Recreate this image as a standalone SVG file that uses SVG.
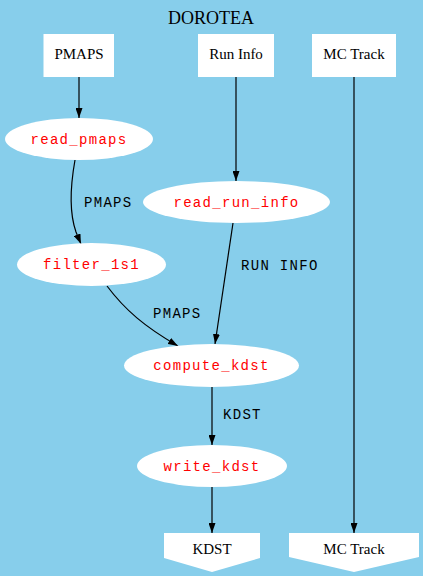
<svg xmlns="http://www.w3.org/2000/svg" width="423" height="576" viewBox="0 0 423 576">
<defs>
<style>
.bg{fill:#87ceeb}
.box{fill:#ffffff;stroke:none}
.ell{fill:#ffffff;stroke:none}
.lbl{font-family:"Liberation Serif","Times New Roman",serif;font-size:15px;fill:#000;text-anchor:middle}
.fn{font-family:"Liberation Mono","Courier New",monospace;font-size:14px;letter-spacing:1.3px;fill:#ff0000;text-anchor:middle}
.elbl{font-family:"Liberation Mono","Courier New",monospace;font-size:14px;letter-spacing:1.3px;fill:#000;text-anchor:start}
.edge{fill:none;stroke:#000;stroke-width:1.2}
.title{font-family:"Liberation Serif","Times New Roman",serif;font-size:18px;fill:#000;text-anchor:middle}
</style>
<marker id="arr" viewBox="0 0 10 7" refX="10" refY="3.5" markerWidth="10" markerHeight="7" markerUnits="userSpaceOnUse" orient="auto">
<path d="M0,0 L10,3.5 L0,7 Z" fill="#000"/>
</marker>
</defs>
<rect class="bg" x="0" y="0" width="423" height="576"/>
<text class="title" x="211" y="24">DOROTEA</text>

<g id="connectors">
<path class="edge" d="M79,77 L79,118" marker-end="url(#arr)"/>
<path class="edge" d="M75,160 C70,188 70,215 76,232 L81,244" marker-end="url(#arr)"/>
<text class="elbl" x="84" y="207">PMAPS</text>
<path class="edge" d="M236,77 L236,181" marker-end="url(#arr)"/>
<path class="edge" d="M233,223 L215,344" marker-end="url(#arr)"/>
<text class="elbl" x="241" y="270">RUN INFO</text>
<path class="edge" d="M107,286 C125,310 145,327 178,346" marker-end="url(#arr)"/>
<text class="elbl" x="153" y="318">PMAPS</text>
<path class="edge" d="M212,387 L212,445" marker-end="url(#arr)"/>
<text class="elbl" x="223" y="419">KDST</text>
<path class="edge" d="M212,487 L212,533" marker-end="url(#arr)"/>
<path class="edge" d="M354,77 L354,533" marker-end="url(#arr)"/>
</g>

<g id="in_pmaps">
<rect class="box" x="43.5" y="34" width="70.5" height="43"/>
<text class="lbl" x="79" y="59">PMAPS</text>
</g>
<g id="in_runinfo">
<rect class="box" x="198" y="34" width="76" height="43"/>
<text class="lbl" x="236" y="59">Run Info</text>
</g>
<g id="in_mctrack">
<rect class="box" x="312" y="34" width="84" height="43"/>
<text class="lbl" x="354" y="59">MC Track</text>
</g>

<g id="read_pmaps">
<ellipse class="ell" cx="79" cy="139" rx="74" ry="21"/>
<text class="fn" x="79" y="143.5">read_pmaps</text>
</g>
<g id="read_run_info">
<ellipse class="ell" cx="236.5" cy="202" rx="93.5" ry="21"/>
<text class="fn" x="236.5" y="206.5">read_run_info</text>
</g>
<g id="filter_1s1">
<ellipse class="ell" cx="91.5" cy="264.5" rx="74.5" ry="21.5"/>
<text class="fn" x="91.5" y="269">filter_1s1</text>
</g>
<g id="compute_kdst">
<ellipse class="ell" cx="211.5" cy="365.5" rx="87.5" ry="21.5"/>
<text class="fn" x="211.5" y="370">compute_kdst</text>
</g>
<g id="write_kdst">
<ellipse class="ell" cx="212" cy="466" rx="75" ry="21"/>
<text class="fn" x="212" y="470.5">write_kdst</text>
</g>

<g id="out_kdst">
<polygon class="box" points="164,533 260,533 260,558 212,572 164,558"/>
<text class="lbl" x="212" y="554">KDST</text>
</g>
<g id="out_mctrack">
<polygon class="box" points="289,533 419,533 419,557 354,572 289,557"/>
<text class="lbl" x="354" y="554">MC Track</text>
</g>
</svg>
